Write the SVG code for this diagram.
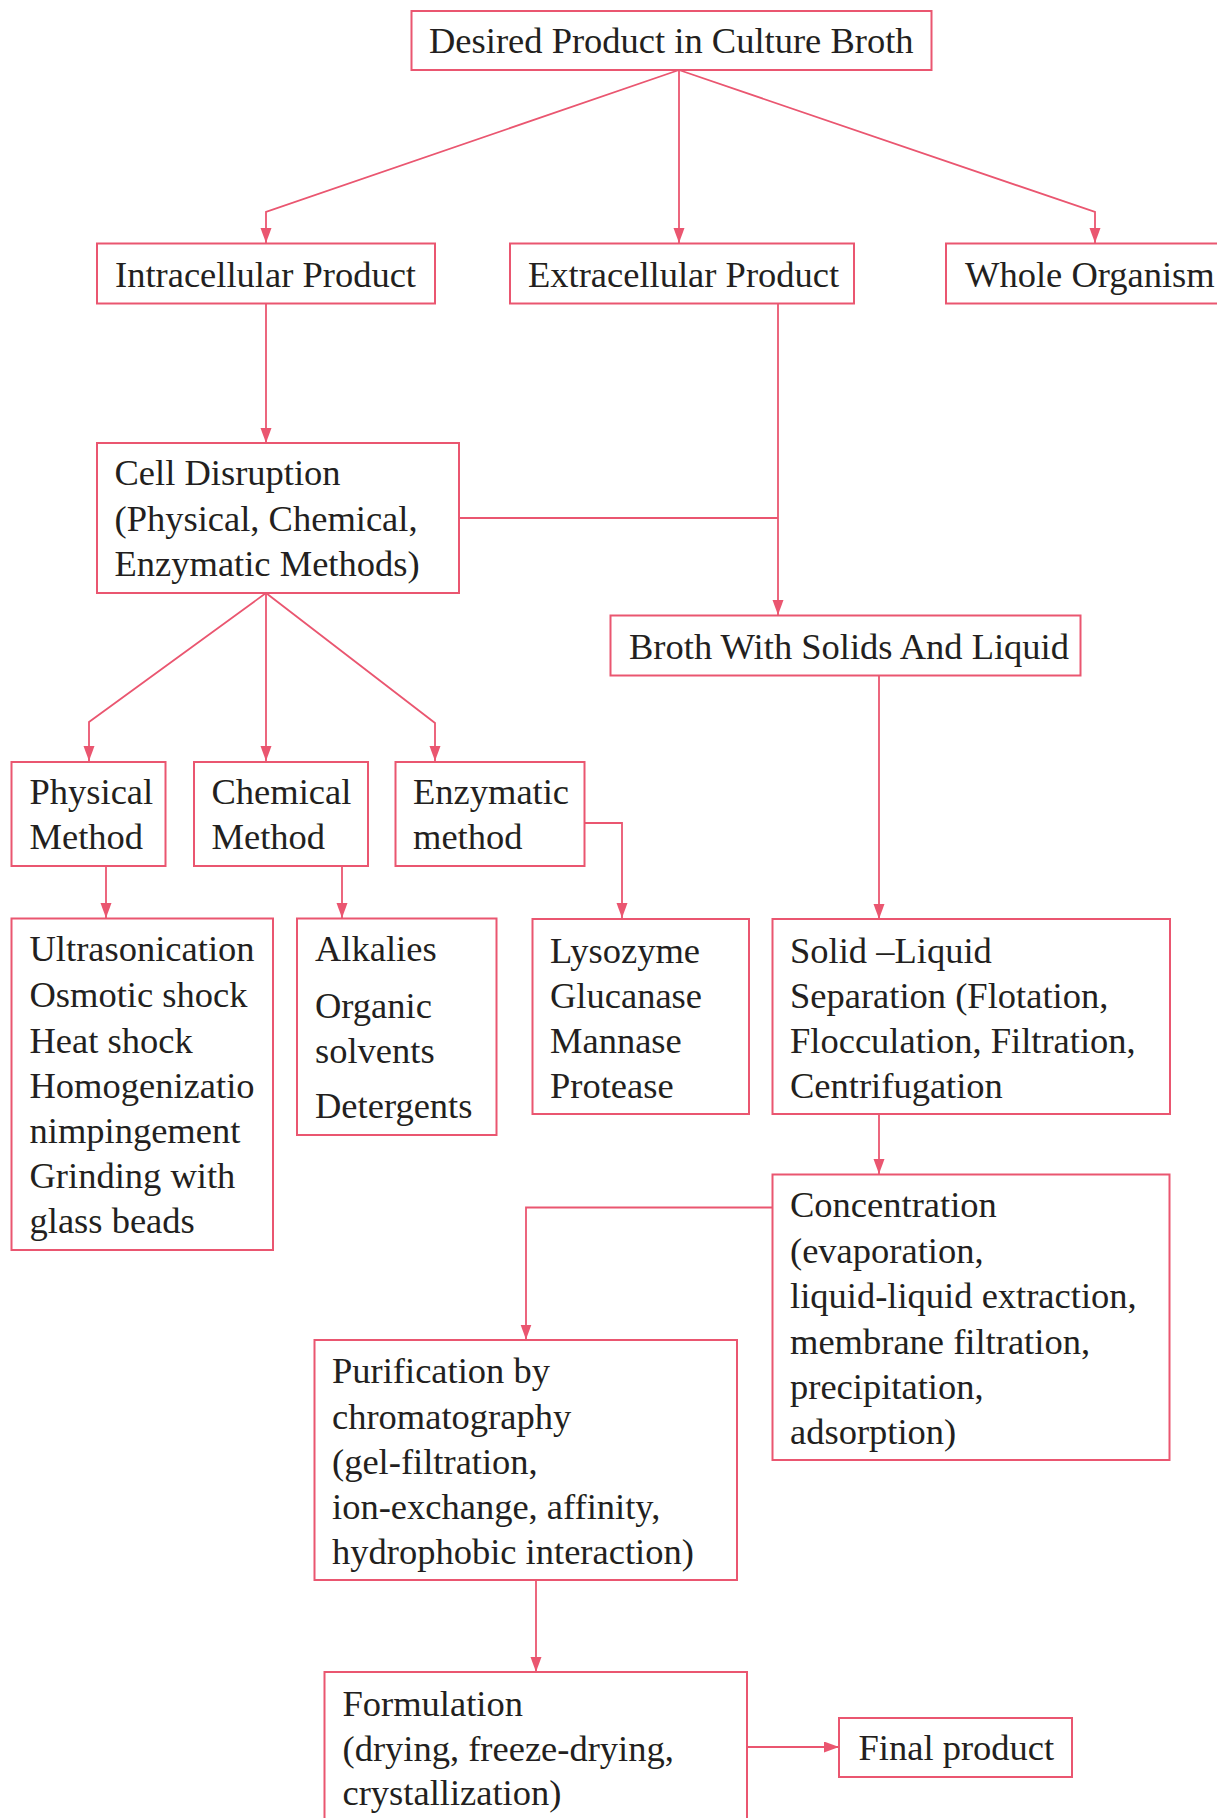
<svg xmlns="http://www.w3.org/2000/svg" width="1217" height="1818" viewBox="0 0 1217 1818">
<style>
  .box{fill:#ffffff;stroke:#EA5670;stroke-width:2}
  .t{font-family:"Liberation Serif","Times New Roman",serif;font-size:36.5px;fill:#231F20}
  .c{fill:none;stroke:#EA5670;stroke-width:1.8}
</style>
<defs>
  <marker id="ah" markerUnits="userSpaceOnUse" markerWidth="16" markerHeight="12" refX="15" refY="5.5" orient="auto">
    <path d="M0,0 L15,5.5 L0,11 Z" fill="#EA5670"/>
  </marker>
</defs>
<rect width="1217" height="1818" fill="#ffffff"/>

<g id="connectors">
  <path class="c" d="M679,70 L266,212 L266,243" marker-end="url(#ah)"/>
  <path class="c" d="M679,70 L679,243" marker-end="url(#ah)"/>
  <path class="c" d="M679,70 L1095,212 L1095,243" marker-end="url(#ah)"/>
  <path class="c" d="M266,304 L266,443" marker-end="url(#ah)"/>
  <path class="c" d="M778,304 L778,615" marker-end="url(#ah)"/>
  <path class="c" d="M459,518 L778,518"/>
  <path class="c" d="M266,593 L89,722 L89,761" marker-end="url(#ah)"/>
  <path class="c" d="M266,593 L266,761" marker-end="url(#ah)"/>
  <path class="c" d="M266,593 L435,723 L435,761" marker-end="url(#ah)"/>
  <path class="c" d="M106,866 L106,918" marker-end="url(#ah)"/>
  <path class="c" d="M342,866 L342,918" marker-end="url(#ah)"/>
  <path class="c" d="M584,823 L622,823 L622,918" marker-end="url(#ah)"/>
  <path class="c" d="M879,675 L879,919" marker-end="url(#ah)"/>
  <path class="c" d="M879,1114 L879,1174" marker-end="url(#ah)"/>
  <path class="c" d="M772,1207.5 L526,1207.5 L526,1339.5" marker-end="url(#ah)"/>
  <path class="c" d="M536,1580 L536,1672" marker-end="url(#ah)"/>
  <path class="c" d="M747,1747 L839,1747" marker-end="url(#ah)"/>
</g>

<g id="desired">
  <rect class="box" x="411.5" y="11" width="520" height="59"/>
  <text class="t" x="429" y="53">Desired Product in Culture Broth</text>
</g>
<g id="intracellular">
  <rect class="box" x="97" y="243.5" width="338" height="60"/>
  <text class="t" x="115" y="287">Intracellular Product</text>
</g>
<g id="extracellular">
  <rect class="box" x="510" y="243.5" width="344" height="60"/>
  <text class="t" x="528" y="287">Extracellular Product</text>
</g>
<g id="whole">
  <rect class="box" x="946" y="243.5" width="290" height="60"/>
  <text class="t" x="965" y="287">Whole Organism</text>
</g>
<g id="celldisruption">
  <rect class="box" x="97" y="443" width="362" height="150"/>
  <text class="t"><tspan x="114.5" y="485">Cell Disruption</tspan><tspan x="114.5" y="531">(Physical, Chemical,</tspan><tspan x="114.5" y="576">Enzymatic Methods)</tspan></text>
</g>
<g id="broth">
  <rect class="box" x="610.5" y="615.5" width="470" height="60"/>
  <text class="t" x="629" y="659">Broth With Solids And Liquid</text>
</g>
<g id="physical">
  <rect class="box" x="11.5" y="762" width="154" height="104"/>
  <text class="t"><tspan x="29.5" y="804">Physical</tspan><tspan x="29.5" y="849">Method</tspan></text>
</g>
<g id="chemical">
  <rect class="box" x="194" y="762" width="174" height="104"/>
  <text class="t"><tspan x="211.5" y="804">Chemical</tspan><tspan x="211.5" y="849">Method</tspan></text>
</g>
<g id="enzymatic">
  <rect class="box" x="395.5" y="762" width="189" height="104"/>
  <text class="t"><tspan x="413" y="804">Enzymatic</tspan><tspan x="413" y="849">method</tspan></text>
</g>
<g id="physicallist">
  <rect class="box" x="11.5" y="918.5" width="261.5" height="331.5"/>
  <text class="t"><tspan x="29.5" y="961">Ultrasonication</tspan><tspan x="29.5" y="1007">Osmotic shock</tspan><tspan x="29.5" y="1052.5">Heat shock</tspan><tspan x="29.5" y="1097.5">Homogenizatio</tspan><tspan x="29.5" y="1142.5">nimpingement</tspan><tspan x="29.5" y="1187.5">Grinding with</tspan><tspan x="29.5" y="1232.5">glass beads</tspan></text>
</g>
<g id="chemicallist">
  <rect class="box" x="297" y="918.5" width="199.5" height="216.5"/>
  <text class="t"><tspan x="315" y="961">Alkalies</tspan><tspan x="315" y="1017.5">Organic</tspan><tspan x="315" y="1062.5">solvents</tspan><tspan x="315" y="1117.5">Detergents</tspan></text>
</g>
<g id="enzymelist">
  <rect class="box" x="532.5" y="919" width="216.5" height="195"/>
  <text class="t"><tspan x="550" y="962.5">Lysozyme</tspan><tspan x="550" y="1007.5">Glucanase</tspan><tspan x="550" y="1052.5">Mannase</tspan><tspan x="550" y="1097.5">Protease</tspan></text>
</g>
<g id="solidliquid">
  <rect class="box" x="772.5" y="919" width="397.5" height="195"/>
  <text class="t"><tspan x="790" y="962.5">Solid –Liquid</tspan><tspan x="790" y="1007.5">Separation (Flotation,</tspan><tspan x="790" y="1052.5">Flocculation, Filtration,</tspan><tspan x="790" y="1097.5">Centrifugation</tspan></text>
</g>
<g id="concentration">
  <rect class="box" x="772.5" y="1174.5" width="397" height="285.5"/>
  <text class="t"><tspan x="790" y="1217">Concentration</tspan><tspan x="790" y="1262.5">(evaporation,</tspan><tspan x="790" y="1308">liquid-liquid extraction,</tspan><tspan x="790" y="1353.5">membrane filtration,</tspan><tspan x="790" y="1399">precipitation,</tspan><tspan x="790" y="1444">adsorption)</tspan></text>
</g>
<g id="purification">
  <rect class="box" x="314.5" y="1340" width="422.5" height="240"/>
  <text class="t"><tspan x="332" y="1383">Purification by</tspan><tspan x="332" y="1429">chromatography</tspan><tspan x="332" y="1474">(gel-filtration,</tspan><tspan x="332" y="1518.5">ion-exchange, affinity,</tspan><tspan x="332" y="1564">hydrophobic interaction)</tspan></text>
</g>
<g id="formulation">
  <rect class="box" x="324.5" y="1672" width="422.5" height="170"/>
  <text class="t"><tspan x="342.5" y="1715.5">Formulation</tspan><tspan x="342.5" y="1760.5">(drying, freeze-drying,</tspan><tspan x="342.5" y="1805">crystallization)</tspan></text>
</g>
<g id="final">
  <rect class="box" x="839" y="1718" width="233" height="59"/>
  <text class="t" x="858.5" y="1760">Final product</text>
</g>
</svg>
